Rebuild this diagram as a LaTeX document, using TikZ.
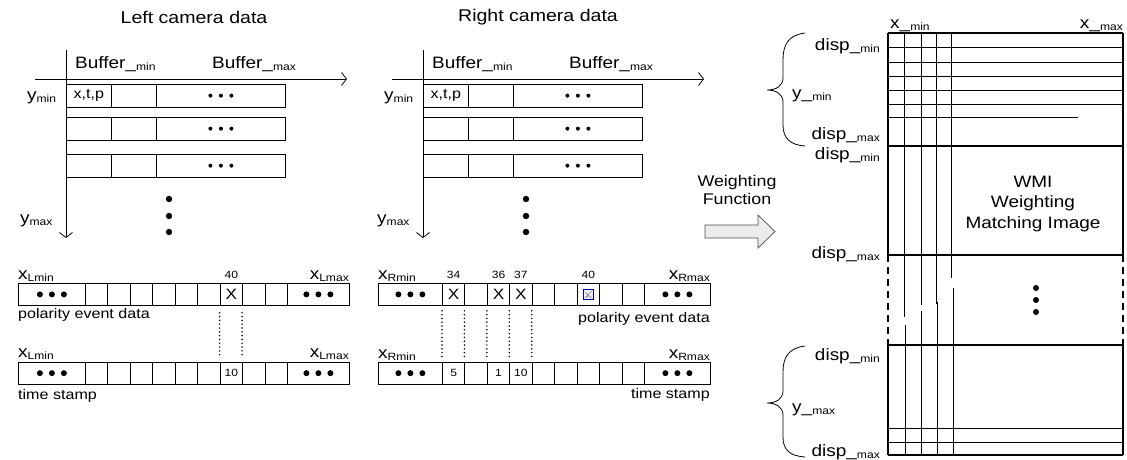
\documentclass[tikz,border=0pt]{standalone}
\usepackage{fontspec}
\setmainfont{Liberation Sans}[FakeStretch=1.15]
\usetikzlibrary{arrows.meta,calc}
\newcommand\sbs[1]{\raisebox{-0.3ex}{\fontsize{10.5}{12}\selectfont #1}}
\newcommand\fs[1]{\fontsize{#1}{#1}\selectfont}
\newcommand\tdots[4]{\foreach \k in {-1,0,1} \fill ($(#1)+(\k*#3,0)$) circle (#2);}
\begin{document}
\begin{tikzpicture}[x=1pt,y=-1pt,
  cellbox/.style={draw, line width=0.8pt, inner sep=0pt, anchor=north west},
  lbl/.style={inner sep=0pt, font=\fs{16.5}},
  body/.style={inner sep=0pt, font=\fs{14}},
  small/.style={inner sep=0pt, font=\fs{10.5}},
  axisline/.style={line width=0.8pt, -{Straight Barb[length=5pt,width=13pt]}},
  dotline/.style={line width=1.7pt, line cap=round, dash pattern=on 0pt off 3.8pt},
  thin/.style={line width=0.8pt},
  heavy/.style={line width=1.6pt},
  dashedborder/.style={line width=1.6pt, dash pattern=on 7pt off 5pt}
]
\useasboundingbox (0,0) rectangle (1127,459);

% ---------- titles ----------
\node[lbl, font=\fs{17}] (ltitle) at (194,17) {Left camera data};
\node[lbl, font=\fs{17}] (rtitle) at (538,17) {Right camera data};

% ---------- upper buffers ----------
\foreach \ox/\P in {0/L,357/R}{
 \begin{scope}[xshift=\ox]
  \coordinate (\P-hs) at (35,79);  \coordinate (\P-he) at (347,79);
  \coordinate (\P-vs) at (66,50);  \coordinate (\P-ve) at (66,238);
  \draw[axisline] (\P-hs) -- (\P-he);
  \draw[axisline] (\P-vs) -- (\P-ve);
  \node[lbl, anchor=base west] (\P-bmin) at (75,68) {Buffer\_\sbs{min}};
  \node[lbl, anchor=base west] (\P-bmax) at (212,68) {Buffer\_\sbs{max}};
  \node[lbl, anchor=base west] (\P-ymin) at (27,100) {y\sbs{min}};
  \node[lbl, anchor=base west] (\P-ymax) at (20,223) {y\sbs{max}};
  \foreach \r/\yy in {1/84,2/117,3/154}{
    \node[cellbox, minimum width=45, minimum height=22.5] (\P-\r a) at (66,\yy) {};
    \node[cellbox, minimum width=45, minimum height=22.5] (\P-\r b) at (111,\yy) {};
    \node[cellbox, minimum width=129, minimum height=22.5] (\P-\r c) at (156,\yy) {};
    \tdots{\P-\r c}{2}{10.5}
  }
  \node[body] (\P-xtp) at (\P-1a) {x,t,p};
  \foreach \yy in {199,216,232} \fill (169,\yy) circle (3.2);
 \end{scope}
}

% ---------- lower left rows ----------
\node[cellbox, minimum width=67, minimum height=22] (LP0) at (18,283) {};
\node[cellbox, minimum width=62, minimum height=22] (LP10) at (287,283) {};
\node[cellbox, minimum width=67, minimum height=21.5] (LT0) at (18,362) {};
\node[cellbox, minimum width=62, minimum height=21.5] (LT10) at (287,362) {};
\foreach \i in {1,...,9}{
  \node[cellbox, minimum width=22.44, minimum height=22] (LP\i) at ({85+(\i-1)*22.44},283) {};
  \node[cellbox, minimum width=22.44, minimum height=21.5] (LT\i) at ({85+(\i-1)*22.44},362) {};
}
\foreach \c in {LP0,LP10,LT0,LT10} {\tdots{\c}{3}{12}}
\node[body, font=\fs{15}] (lx) at (LP7) {X};
\node[small] (lt10) at (LT7) {10};
\node[small, anchor=base] (l40) at ($(LP7.north)+(0,-5)$) {40};
\node[lbl, anchor=base west] (lxmin1) at (18,279) {x\sbs{Lmin}};
\node[lbl, anchor=base east] (lxmax1) at (349,279) {x\sbs{Lmax}};
\node[lbl, anchor=base west] (lxmin2) at (18,357) {x\sbs{Lmin}};
\node[lbl, anchor=base east] (lxmax2) at (349,357) {x\sbs{Lmax}};
\node[body, anchor=base west] (lped) at (18,318) {polarity event data};
\node[body, anchor=base west] (lts) at (18,399) {time stamp};
\foreach \c in {7,8}
  \draw[dotline, shorten <=7pt, shorten >=5pt] (LP\c.south west) -- (LT\c.north west);

% ---------- lower right rows ----------
\node[cellbox, minimum width=64, minimum height=22] (RP0) at (378,283) {};
\node[cellbox, minimum width=66, minimum height=22] (RP10) at (644,283) {};
\node[cellbox, minimum width=64, minimum height=21.5] (RT0) at (378,362) {};
\node[cellbox, minimum width=66, minimum height=21.5] (RT10) at (644,362) {};
\foreach \i in {1,...,9}{
  \node[cellbox, minimum width=22.44, minimum height=22] (RP\i) at ({442+(\i-1)*22.44},283) {};
  \node[cellbox, minimum width=22.44, minimum height=21.5] (RT\i) at ({442+(\i-1)*22.44},362) {};
}
\foreach \c in {RP0,RP10,RT0,RT10} {\tdots{\c}{3}{12}}
\foreach \c in {1,3,4} \node[body, font=\fs{15}] (rx\c) at (RP\c) {X};
\node[small] (rt1) at (RT1) {5};
\node[small] (rt3) at (RT3) {1};
\node[small] (rt4) at (RT4) {10};
\foreach \c/\t in {1/34,3/36,4/37,7/40}
  \node[small, anchor=base] (rn\c) at ($(RP\c.north)+(0,-5)$) {\t};
% blue icon
\draw[line width=0.8pt, draw=blue!60!black, fill=blue!6] ($(RP7)+(-5,-5)$) rectangle ($(RP7)+(5,5)$);
\draw[line width=0.6pt, gray] ($(RP7)+(-3.5,3.5)$) -- ($(RP7)+(3.5,-3.5)$)
   ($(RP7)+(-3,-2)$) .. controls ($(RP7)+(0,0)$) .. ($(RP7)+(-1,3.5)$)
   ($(RP7)+(3,3.5)$) -- ($(RP7)+(0.5,1)$);
\node[lbl, anchor=base west] (rxmin1) at (378,279) {x\sbs{Rmin}};
\node[lbl, anchor=base east] (rxmax1) at (710,279) {x\sbs{Rmax}};
\node[lbl, anchor=base west] (rxmin2) at (378,358) {x\sbs{Rmin}};
\node[lbl, anchor=base east] (rxmax2) at (710,358) {x\sbs{Rmax}};
\node[body, anchor=base east] (rped) at (710,322) {polarity event data};
\node[body, anchor=base east] (rts) at (710,398) {time stamp};
\foreach \c in {1,...,5}
  \draw[dotline, shorten <=5pt, shorten >=5pt] (RP\c.south west) -- (RT\c.north west);

% ---------- weighting function ----------
\node[lbl, font=\fs{15.5}, align=center] (wf) at (737,190) {Weighting\\[3pt]Function};
\draw[line width=0.7pt, draw=gray!60!black, fill=gray!15]
  (705,225) -- (758,225) -- (758,215) -- (775,231.5) -- (758,248) -- (758,238) -- (705,238) -- cycle;

% ---------- matrix ----------
\coordinate (M1) at (888,33);
\coordinate (M2) at (1123,455);
\foreach \yy in {47,62,76,90,104,428,442} \draw[thin] (888,\yy) -- (1123,\yy);
\draw[thin] (888,117) -- (1078,117);
% inner verticals with breaks
\draw[thin] (904,33) -- (904,317) (905,325) -- (905,455);
\draw[thin] (921,33) -- (921,305) (921,311) -- (921,455);
\draw[thin] (936,33) -- (936,304) (937,302) -- (937,455);
\draw[thin] (951,33) -- (951,278) (953,288) -- (953,455);
\foreach \yy in {33,146,255,345,455} \draw[heavy] (888,\yy) -- (1123,\yy);
\draw[heavy] (888,33) -- (888,255) (888,345) -- (888,455);
\draw[heavy] (1123,33) -- (1123,255) (1123,345) -- (1123,455);
\draw[dashedborder] (888,255) -- (888,345);
\draw[dashedborder] (1123,255) -- (1123,345);
\foreach \yy in {288,300,312} \fill (1036,\yy) circle (3);

\node[lbl, anchor=base west] (mxmin) at (890,28) {x\_\sbs{min}};
\node[lbl, anchor=base east] (mxmax) at (1123,28) {x\_\sbs{max}};
\node[lbl, anchor=base east] (d1) at (880,50) {disp\_\sbs{min}};
\node[lbl, anchor=base east] (d2) at (880,139) {disp\_\sbs{max}};
\node[lbl, anchor=base east] (d3) at (880,159) {disp\_\sbs{min}};
\node[lbl, anchor=base east] (d4) at (880,258) {disp\_\sbs{max}};
\node[lbl, anchor=base east] (d5) at (880,360) {disp\_\sbs{min}};
\node[lbl, anchor=base east] (d6) at (880,456) {disp\_\sbs{max}};
\node[lbl, anchor=base west] (ymn) at (792,98) {y\_\sbs{min}};
\node[lbl, anchor=base west] (ymx) at (792,412) {y\_\sbs{max}};
\node[lbl, align=center] (wmi) at (1033,204) {WMI\\[4pt]Weighting\\[4pt]Matching Image};

% braces
\draw[thin] (805,33) .. controls (788,35) and (783,45) .. (783,60) -- (783,78)
  .. controls (783,86) and (776,90) .. (767,90)
  .. controls (776,90) and (783,94) .. (783,102) -- (783,125)
  .. controls (783,138) and (790,145) .. (805,146);
\draw[thin] (805,346) .. controls (788,348) and (783,358) .. (783,372) -- (783,391)
  .. controls (783,399) and (776,403) .. (767,403)
  .. controls (776,403) and (783,407) .. (783,415) -- (783,437)
  .. controls (783,450) and (790,456) .. (805,457);
\end{tikzpicture}
\end{document}
